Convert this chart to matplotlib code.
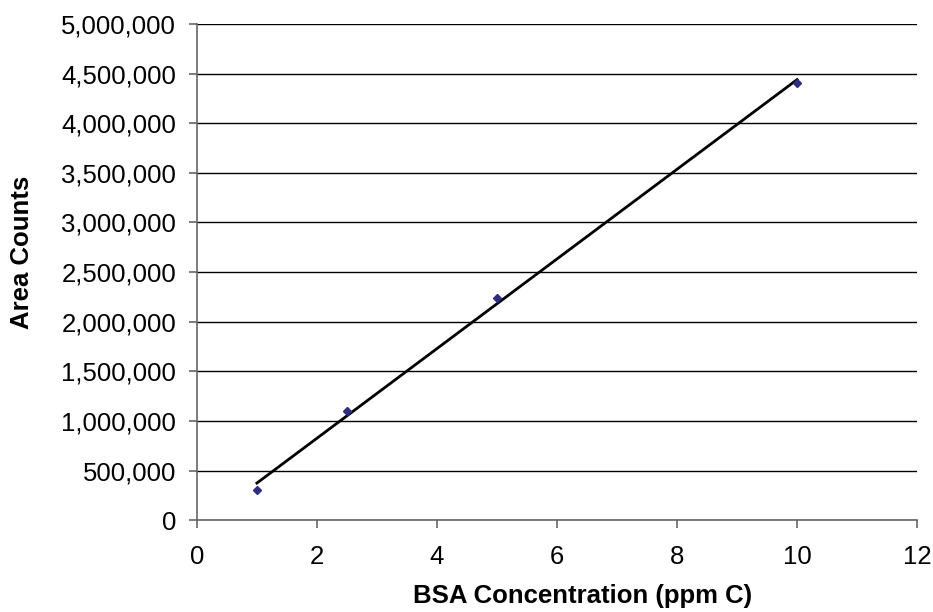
import matplotlib
matplotlib.use("Agg")
import matplotlib.pyplot as plt
import numpy as np
from matplotlib.ticker import FuncFormatter

plt.rcParams['font.family'] = ['Liberation Sans', 'DejaVu Sans']

conc = np.array([1.0, 2.5, 5.0, 10.0])
area = np.array([302000, 1099000, 2238000, 4405000])

slope, intercept = np.polyfit(conc, area, 1)
fit_x = np.array([conc.min(), conc.max()])
fit_y = slope * fit_x + intercept

fig = plt.figure(figsize=(9.33, 6.12), dpi=100)
ax = fig.add_axes([0.211, 0.150, 0.772, 0.811])

ax.plot(fit_x, fit_y, color='black', linewidth=2, zorder=2)
ax.plot(conc, area, linestyle='none', marker='D', markersize=4.5,
        color='#2e2e80', zorder=3)

ax.set_xlim(0, 12)
ax.set_ylim(0, 5000000)
ax.set_xticks(np.arange(0, 13, 2))
ax.set_yticks(np.arange(0, 5000001, 500000))
ax.yaxis.set_major_formatter(FuncFormatter(lambda v, p: f"{int(v):,}"))

ax.grid(axis='y', color='black', linewidth=1)
ax.set_axisbelow(True)
for s in ['top', 'right']:
    ax.spines[s].set_visible(False)
for s in ['left', 'bottom']:
    ax.spines[s].set_color('#666666')
    ax.spines[s].set_linewidth(1.2)
ax.tick_params(axis='both', labelsize=18.5, length=6, width=1.2, color='#666666', pad=9)
ax.tick_params(axis='x', pad=12)

ax.set_xlabel('BSA Concentration (ppm C)', fontsize=18.5, fontweight='bold')
ax.set_ylabel('Area Counts', fontsize=18.5, fontweight='bold')
ax.xaxis.set_label_coords(0.536, -0.128)
ax.yaxis.set_label_coords(-0.226, 0.54)

fig.savefig('out.png', dpi=100)
